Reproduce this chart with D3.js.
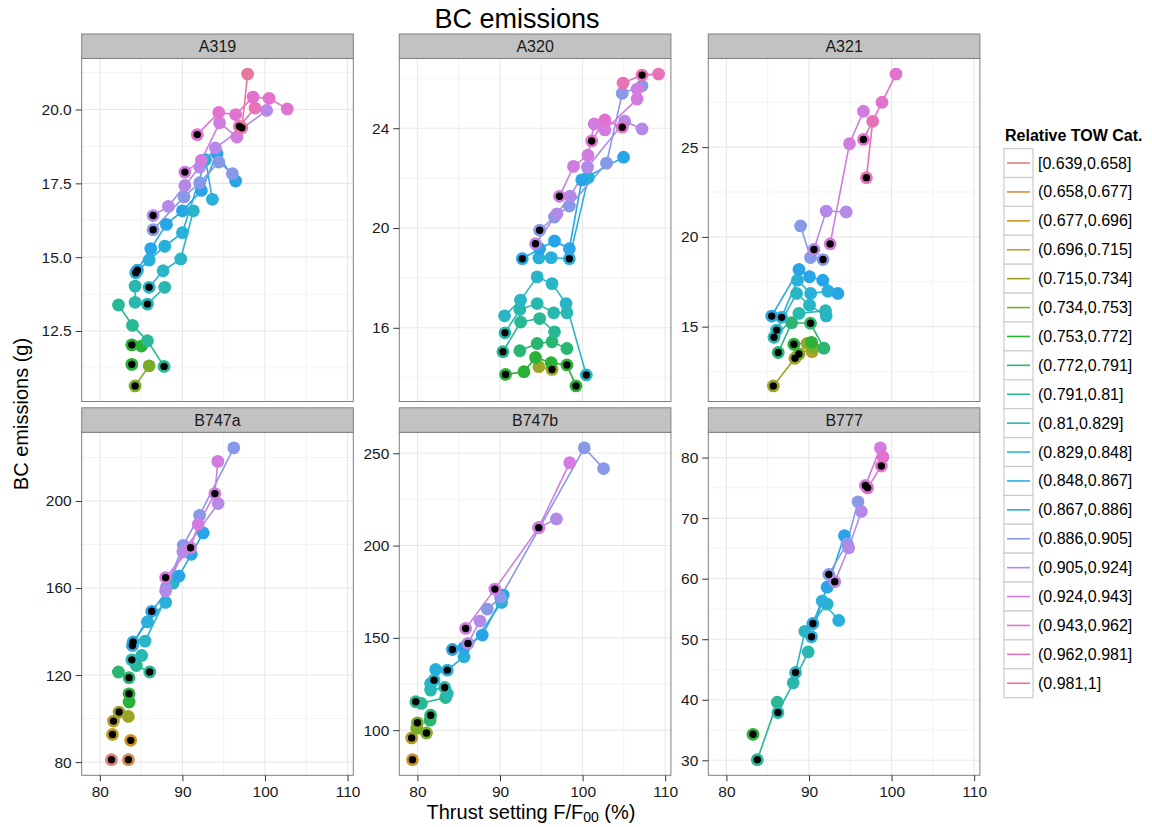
<!DOCTYPE html>
<html>
<head>
<meta charset="utf-8">
<script src="https://cdn.jsdelivr.net/npm/d3@7"></script>
<style>
  body { margin: 0; background: #fff; }
  text { font-family: "Liberation Sans", Arial, sans-serif; }
</style>
</head>
<body>
<svg id="chart" width="1152" height="827"></svg>
<script>
// facets and legend categories
var aircraft = ["A319", "A320", "A321", "B747a", "B747b", "B777"];
var towCats = ["[0.639,0.658]", "(0.658,0.677]", "(0.677,0.696]", "(0.696,0.715]", "(0.715,0.734]",
  "(0.734,0.753]", "(0.753,0.772]", "(0.772,0.791]", "(0.791,0.81]", "(0.81,0.829]",
  "(0.829,0.848]", "(0.848,0.867]", "(0.867,0.886]", "(0.886,0.905]", "(0.905,0.924]",
  "(0.924,0.943]", "(0.943,0.962]", "(0.962,0.981]", "(0.981,1]"];

var xTicks = [80, 90, 100, 110];
var yTicks = [[12.5, 15, 17.5, 20], [16, 20, 24], [15, 20, 25],
  [80, 120, 160, 200], [100, 150, 200, 250], [30, 40, 50, 60, 70, 80]];

// each run: [tow category index, [[thrust %, BC g, marked], ...]]
var a319 = [
  [5, [[84.27, 10.64, 1], [85.97, 11.32, 0]]],
  [6, [[83.87, 11.37, 1]]],
  [6, [[83.87, 12.03, 1], [85.04, 11.99, 0]]],
  [8, [[82.26, 13.38, 0], [83.95, 12.69, 0], [85.77, 12.17, 0], [87.78, 11.3, 1]]],
  [9, [[84.27, 14.02, 0], [84.27, 13.47, 0], [85.77, 13.41, 1], [87.86, 13.98, 0]]],
  [10, [[85.97, 13.98, 1], [87.66, 14.54, 0], [89.8, 14.94, 0], [91.33, 16.57, 0]]],
  [11, [[84.35, 14.47, 1], [85.97, 14.9, 0], [87.86, 15.37, 0], [90.0, 15.83, 0], [92.8, 18.3, 0], [93.63, 16.96, 0]]],
  [12, [[84.55, 14.56, 1], [86.17, 15.29, 0], [88.06, 16.11, 0], [90.0, 16.57, 0], [92.3, 17.26, 0], [94.2, 18.5, 0], [96.45, 17.58, 0]]],
  [13, [[86.45, 15.93, 1], [90.2, 17.04, 0], [92.1, 17.52, 0], [94.4, 18.22, 0], [96.05, 17.83, 0]]],
  [14, [[86.45, 16.41, 1], [88.3, 16.72, 0], [90.3, 17.43, 0], [92.1, 18.05, 0], [94.0, 18.7, 0], [100.2, 19.97, 0]]],
  [15, [[90.3, 17.88, 1], [92.3, 18.28, 0], [94.5, 19.55, 0], [96.6, 19.07, 0]]],
  [16, [[91.8, 19.15, 1], [94.4, 19.9, 0], [96.45, 19.83, 0], [98.55, 20.42, 0], [100.5, 20.38, 0], [102.7, 20.02, 0]]],
  [17, [[98.8, 20.05, 0], [96.9, 19.43, 1]]],
  [18, [[97.9, 21.2, 0], [97.2, 19.38, 1]]]
];

var a320 = [
  [4, [[94.7, 14.44, 0], [96.3, 14.33, 1]]],
  [6, [[90.67, 14.13, 1], [92.9, 14.24, 0], [94.3, 14.81, 0], [96.2, 14.6, 0], [98.1, 14.51, 1], [99.2, 13.67, 1]]],
  [7, [[92.4, 15.08, 0], [94.5, 15.37, 0], [96.3, 15.44, 0], [98.1, 15.17, 0]]],
  [8, [[90.35, 15.04, 1], [92.5, 16.23, 0], [94.8, 16.37, 0], [96.6, 15.84, 0]]],
  [9, [[90.6, 15.8, 1], [92.4, 16.73, 0], [94.5, 16.97, 0], [96.5, 16.6, 0], [98.1, 16.6, 0]]],
  [10, [[90.55, 16.48, 0], [92.48, 17.11, 0], [94.5, 18.04, 0], [96.3, 17.77, 0], [98.0, 16.97, 0], [100.45, 14.11, 1]]],
  [11, [[94.7, 18.8, 0], [96.2, 18.81, 0], [98.4, 18.77, 1], [100.7, 22.03, 0]]],
  [12, [[92.7, 18.77, 1], [94.8, 19.17, 0], [96.6, 19.48, 0], [98.4, 19.17, 0], [99.9, 21.93, 0], [104.96, 22.84, 0]]],
  [13, [[94.8, 19.91, 1], [96.6, 20.44, 0], [98.4, 20.88, 0], [102.9, 22.6, 0], [104.8, 25.4, 0], [107.2, 25.7, 0]]],
  [14, [[94.3, 19.37, 1], [96.9, 20.57, 0], [98.5, 21.28, 0], [100.6, 22.44, 0], [105.1, 24.28, 0], [107.2, 23.97, 0]]],
  [15, [[97.2, 21.27, 1], [98.9, 22.47, 0], [100.65, 22.92, 0], [101.4, 24.17, 0], [102.7, 23.93, 0], [106.6, 25.17, 0], [106.6, 25.57, 0]]],
  [16, [[101.1, 23.49, 1], [102.7, 24.33, 0], [104.8, 24.04, 1]]],
  [17, [[104.9, 25.81, 0], [107.2, 26.13, 1], [109.2, 26.17, 0]]]
];

var a321 = [
  [3, [[90.38, 13.61, 0]]],
  [4, [[85.68, 11.7, 1], [88.3, 13.24, 1], [89.78, 14.07, 0]]],
  [5, [[88.78, 13.48, 1], [90.5, 13.85, 0]]],
  [6, [[88.17, 14.02, 1], [90.3, 14.13, 0]]],
  [7, [[86.27, 13.56, 1], [87.9, 15.22, 0], [90.18, 15.19, 1], [91.8, 13.8, 0]]],
  [9, [[85.76, 14.41, 1], [88.78, 15.74, 0], [92.0, 15.89, 0]]],
  [10, [[86.08, 14.81, 1], [88.5, 16.85, 0], [90.06, 16.2, 0], [92.08, 15.6, 0]]],
  [11, [[86.68, 15.52, 1], [88.6, 17.59, 0], [90.2, 16.85, 0], [92.3, 16.98, 0]]],
  [12, [[85.48, 15.59, 1], [88.78, 18.19, 0], [90.06, 17.78, 0], [91.67, 17.59, 0], [93.5, 16.85, 0]]],
  [13, [[88.98, 20.61, 0], [90.18, 18.85, 0], [91.7, 18.74, 1]]],
  [14, [[90.6, 19.3, 1], [92.08, 21.44, 0], [94.5, 21.39, 0]]],
  [15, [[92.56, 19.61, 1], [94.9, 25.19, 0], [96.59, 27.0, 0]]],
  [16, [[96.59, 25.43, 1], [98.84, 27.5, 0], [100.53, 29.07, 0]]],
  [17, [[96.95, 23.3, 1], [97.71, 26.44, 0]]]
];

var b747a = [
  [0, [[81.41, 81.1, 1]]],
  [1, [[83.46, 81.1, 1]]],
  [2, [[83.74, 90.0, 1]]],
  [3, [[81.53, 92.7, 1]]],
  [3, [[81.65, 98.85, 1]]],
  [4, [[82.33, 103.0, 1], [83.46, 101.0, 0]]],
  [6, [[83.54, 111.4, 1], [83.54, 107.6, 0]]],
  [7, [[82.25, 121.4, 0], [83.54, 118.8, 1]]],
  [8, [[84.43, 124.4, 0], [86.04, 121.4, 1]]],
  [9, [[83.87, 127.0, 1], [85.07, 129.0, 0]]],
  [10, [[85.48, 135.6, 0], [88.9, 162.3, 0]]],
  [11, [[84.03, 135.2, 1], [85.76, 144.4, 0], [87.97, 153.4, 0]]],
  [12, [[83.95, 133.6, 1], [86.28, 149.3, 1], [89.58, 165.5, 0], [91.07, 175.5, 0], [92.52, 185.3, 0]]],
  [13, [[88.05, 160.2, 0], [90.1, 179.6, 0], [92.08, 193.4, 0], [96.22, 224.4, 0]]],
  [14, [[87.97, 158.6, 0], [90.06, 176.6, 0], [94.33, 198.8, 0]]],
  [15, [[87.97, 164.8, 1], [90.99, 178.5, 1], [91.92, 189.3, 0], [93.93, 203.4, 1], [94.29, 218.2, 0]]]
];

var b747b = [
  [2, [[79.4, 84.0, 1]]],
  [3, [[79.3, 95.8, 1]]],
  [5, [[80.0, 104.0, 1], [79.92, 101.0, 0], [81.09, 98.5, 1]]],
  [7, [[81.6, 108.1, 1], [81.53, 105.4, 0]]],
  [8, [[79.8, 115.4, 1], [80.48, 114.5, 0], [83.42, 117.7, 0]]],
  [9, [[81.6, 121.7, 0], [83.3, 123.1, 1], [83.62, 119.9, 0]]],
  [10, [[81.6, 125.3, 0], [82.01, 127.1, 1]]],
  [11, [[82.21, 132.9, 0], [83.62, 132.5, 1], [85.64, 139.8, 0], [90.19, 169.2, 0]]],
  [12, [[84.23, 143.7, 1], [85.64, 144.8, 0], [87.85, 151.5, 0], [90.39, 173.2, 0]]],
  [13, [[88.45, 165.6, 0], [90.06, 171.9, 0], [100.21, 252.9, 0], [102.54, 241.7, 0]]],
  [14, [[86.12, 147.0, 1], [87.57, 159.1, 0]]],
  [14, [[94.69, 209.7, 0], [96.83, 214.4, 0]]],
  [15, [[85.84, 155.1, 1], [89.38, 176.4, 1], [94.69, 209.7, 1], [98.44, 244.9, 0]]]
];

var b777 = [
  [6, [[83.22, 34.3, 1]]],
  [8, [[83.74, 30.1, 1], [86.16, 39.6, 0]]],
  [9, [[86.24, 37.9, 1], [88.09, 42.8, 0], [89.9, 47.9, 0]]],
  [10, [[88.37, 44.5, 1], [89.5, 51.3, 0], [92.2, 55.8, 0]]],
  [11, [[90.3, 50.4, 1], [91.6, 56.3, 0], [93.6, 53.1, 0]]],
  [12, [[90.47, 52.6, 1], [92.2, 58.6, 0], [94.29, 67.1, 0]]],
  [13, [[92.4, 60.7, 1], [94.6, 65.8, 0], [95.94, 72.7, 0]]],
  [14, [[93.12, 59.5, 1], [94.81, 65.1, 0], [96.34, 71.1, 0]]],
  [15, [[96.83, 75.4, 1], [98.64, 81.6, 0]]],
  [16, [[97.1, 75.0, 1], [98.76, 78.6, 1], [98.96, 80.1, 0]]]
];

var panelData = [a319, a320, a321, b747a, b747b, b777];

// default hue palette (polar LUV, c=100, l=65), then toned down toward grey like the picture
function hueColor(h, c, l) {
  var hr = h * Math.PI / 180;
  var U = c * Math.cos(hr), V = c * Math.sin(hr);
  var Xn = 95.047, Yn = 100, Zn = 108.883;
  var den = Xn + 15 * Yn + 3 * Zn;
  var un = 4 * Xn / den, vn = 9 * Yn / den;
  var Y = l > 8 ? Yn * Math.pow((l + 16) / 116, 3) : Yn * l / 903.3;
  var u = U / (13 * l) + un, v = V / (13 * l) + vn;
  var X = Y * 9 * u / (4 * v);
  var Z = Y * (12 - 3 * u - 20 * v) / (4 * v);
  X /= 100; Y /= 100; Z /= 100;
  var r = 3.2404542 * X - 1.5371385 * Y - 0.4985314 * Z;
  var g = -0.9692660 * X + 1.8760108 * Y + 0.0415560 * Z;
  var b = 0.0556434 * X - 0.2040259 * Y + 1.0572252 * Z;
  function gam(t) {
    t = t <= 0.0031308 ? 12.92 * t : 1.055 * Math.pow(t, 1 / 2.4) - 0.055;
    return Math.round(Math.max(0, Math.min(1, t)) * 255);
  }
  return d3.rgb(gam(r), gam(g), gam(b)).formatHex();
}
var colors = towCats.map(function(d, i) {
  return d3.color(d3.interpolateRgb(hueColor(15 + i * 360 / 19, 100, 65), "#a0a0a0")(0.25)).formatHex();
});

var svg = d3.select("#chart");

var colX = [81.7, 399.3, 708.3];
var rowY = [58.5, 432.3];
var panelW = 271.6, panelH = 343, stripH = 24.5;

function expand(ext) {
  var r = ext[1] - ext[0];
  return [ext[0] - 0.05 * r, ext[1] + 0.05 * r];
}

var allX = [];
panelData.forEach(function(p) { p.forEach(function(run) { run[1].forEach(function(pt) { allX.push(pt[0]); }); }); });
var xDomain = expand(d3.extent(allX));

function minors(ticks, dom) {
  var step = ticks[1] - ticks[0];
  var m = ticks.map(function(t) { return t - step / 2; });
  m.push(ticks[ticks.length - 1] + step / 2);
  return m.filter(function(t) { return t > dom[0] && t < dom[1]; });
}

var line = d3.line();

aircraft.forEach(function(name, i) {
  var col = i % 3, row = Math.floor(i / 3);
  var runs = panelData[i];
  var ys = [];
  runs.forEach(function(run) { run[1].forEach(function(pt) { ys.push(pt[1]); }); });

  var x = d3.scaleLinear().domain(xDomain).range([0, panelW]);
  var y = d3.scaleLinear().domain(expand(d3.extent(ys))).range([panelH, 0]);

  var g = svg.append("g").attr("transform", "translate(" + colX[col] + "," + rowY[row] + ")");

  g.append("rect").attr("width", panelW).attr("height", panelH).attr("fill", "#fff");

  // grid
  var xm = minors(xTicks, xDomain), ym = minors(yTicks[i], y.domain());
  g.selectAll(".xmin").data(xm).enter().append("line")
    .attr("x1", x).attr("x2", x).attr("y1", 0).attr("y2", panelH)
    .attr("stroke", "#f3f3f3").attr("stroke-width", 1);
  g.selectAll(".ymin").data(ym).enter().append("line")
    .attr("y1", y).attr("y2", y).attr("x1", 0).attr("x2", panelW)
    .attr("stroke", "#f3f3f3").attr("stroke-width", 1);
  g.selectAll(".xmaj").data(xTicks).enter().append("line")
    .attr("x1", x).attr("x2", x).attr("y1", 0).attr("y2", panelH)
    .attr("stroke", "#e8e8e8").attr("stroke-width", 1.1);
  g.selectAll(".ymaj").data(yTicks[i]).enter().append("line")
    .attr("y1", y).attr("y2", y).attr("x1", 0).attr("x2", panelW)
    .attr("stroke", "#e8e8e8").attr("stroke-width", 1.1);

  // lines
  runs.forEach(function(run) {
    if (run[1].length < 2) return;
    g.append("path")
      .attr("d", line(run[1].map(function(pt) { return [x(pt[0]), y(pt[1])]; })))
      .attr("fill", "none")
      .attr("stroke", colors[run[0]])
      .attr("stroke-width", 1.6);
  });

  // points
  var pts = [];
  runs.forEach(function(run) { run[1].forEach(function(pt) { pts.push({x: pt[0], y: pt[1], m: pt[2], c: run[0]}); }); });
  pts.sort(function(a, b) { return a.c - b.c; });
  g.selectAll(".pt").data(pts).enter().append("circle")
    .attr("cx", function(d) { return x(d.x); })
    .attr("cy", function(d) { return y(d.y); })
    .attr("r", 6.4)
    .attr("fill", function(d) { return colors[d.c]; });
  g.selectAll(".mk").data(pts.filter(function(d) { return d.m; })).enter().append("circle")
    .attr("cx", function(d) { return x(d.x); })
    .attr("cy", function(d) { return y(d.y); })
    .attr("r", 3.7)
    .attr("fill", "#000");

  // border
  g.append("rect").attr("width", panelW).attr("height", panelH)
    .attr("fill", "none").attr("stroke", "#7f7f7f").attr("stroke-width", 1);

  // strip
  g.append("rect").attr("y", -stripH).attr("width", panelW).attr("height", stripH)
    .attr("fill", "#c2c2c2").attr("stroke", "#7f7f7f").attr("stroke-width", 1);
  g.append("text").attr("x", panelW / 2).attr("y", -stripH / 2 + 5.8)
    .attr("text-anchor", "middle").attr("font-size", 16).attr("fill", "#1a1a1a").text(name);

  // y axis
  var fmt = i === 0 ? d3.format(".1f") : d3.format("d");
  var ya = g.append("g").call(d3.axisLeft(y).tickValues(yTicks[i]).tickSize(6).tickPadding(4).tickFormat(fmt));
  ya.select(".domain").remove();
  ya.selectAll("line").attr("stroke", "#333");
  ya.selectAll("text").attr("font-size", 15.5).attr("fill", "#1a1a1a").attr("font-family", "Liberation Sans, Arial, sans-serif");

  // x axis only on bottom row
  if (row === 1) {
    var xa = g.append("g").attr("transform", "translate(0," + panelH + ")")
      .call(d3.axisBottom(x).tickValues(xTicks).tickSize(6).tickPadding(5).tickFormat(d3.format("d")));
    xa.select(".domain").remove();
    xa.selectAll("line").attr("stroke", "#333");
    xa.selectAll("text").attr("font-size", 15.5).attr("fill", "#1a1a1a").attr("font-family", "Liberation Sans, Arial, sans-serif");
  }
});

// titles
svg.append("text").attr("x", 517).attr("y", 28).attr("text-anchor", "middle")
  .attr("font-size", 27).attr("fill", "#000").text("BC emissions");

var xt = svg.append("text").attr("x", 531).attr("y", 819).attr("text-anchor", "middle")
  .attr("font-size", 20).attr("fill", "#000");
xt.append("tspan").text("Thrust setting F/F");
xt.append("tspan").attr("font-size", 14).attr("dy", 3).text("00");
xt.append("tspan").attr("dy", -3).text(" (%)");

svg.append("text").attr("transform", "translate(28,414) rotate(-90)").attr("text-anchor", "middle")
  .attr("font-size", 20).attr("fill", "#000").text("BC emissions (g)");

// legend
var leg = svg.append("g").attr("transform", "translate(1004,148.6)");
leg.append("text").attr("x", 1).attr("y", -8).attr("font-size", 16).attr("font-weight", "bold")
  .attr("fill", "#000").text("Relative TOW Cat.");
var keyH = 28.9, keyW = 29;
var keys = leg.selectAll(".key").data(towCats).enter().append("g")
  .attr("transform", function(d, i) { return "translate(0," + (i * keyH) + ")"; });
keys.append("rect").attr("width", keyW).attr("height", keyH)
  .attr("fill", "#fff").attr("stroke", "#cccccc").attr("stroke-width", 1.2);
keys.append("line").attr("x1", 3).attr("x2", keyW - 3).attr("y1", keyH / 2).attr("y2", keyH / 2)
  .attr("stroke", function(d, i) { return colors[i]; }).attr("stroke-width", 1.6);
keys.append("text").attr("x", keyW + 5).attr("y", keyH / 2 + 5.5)
  .attr("font-size", 16).attr("fill", "#000").text(function(d) { return d; });
</script>
</body>
</html>
